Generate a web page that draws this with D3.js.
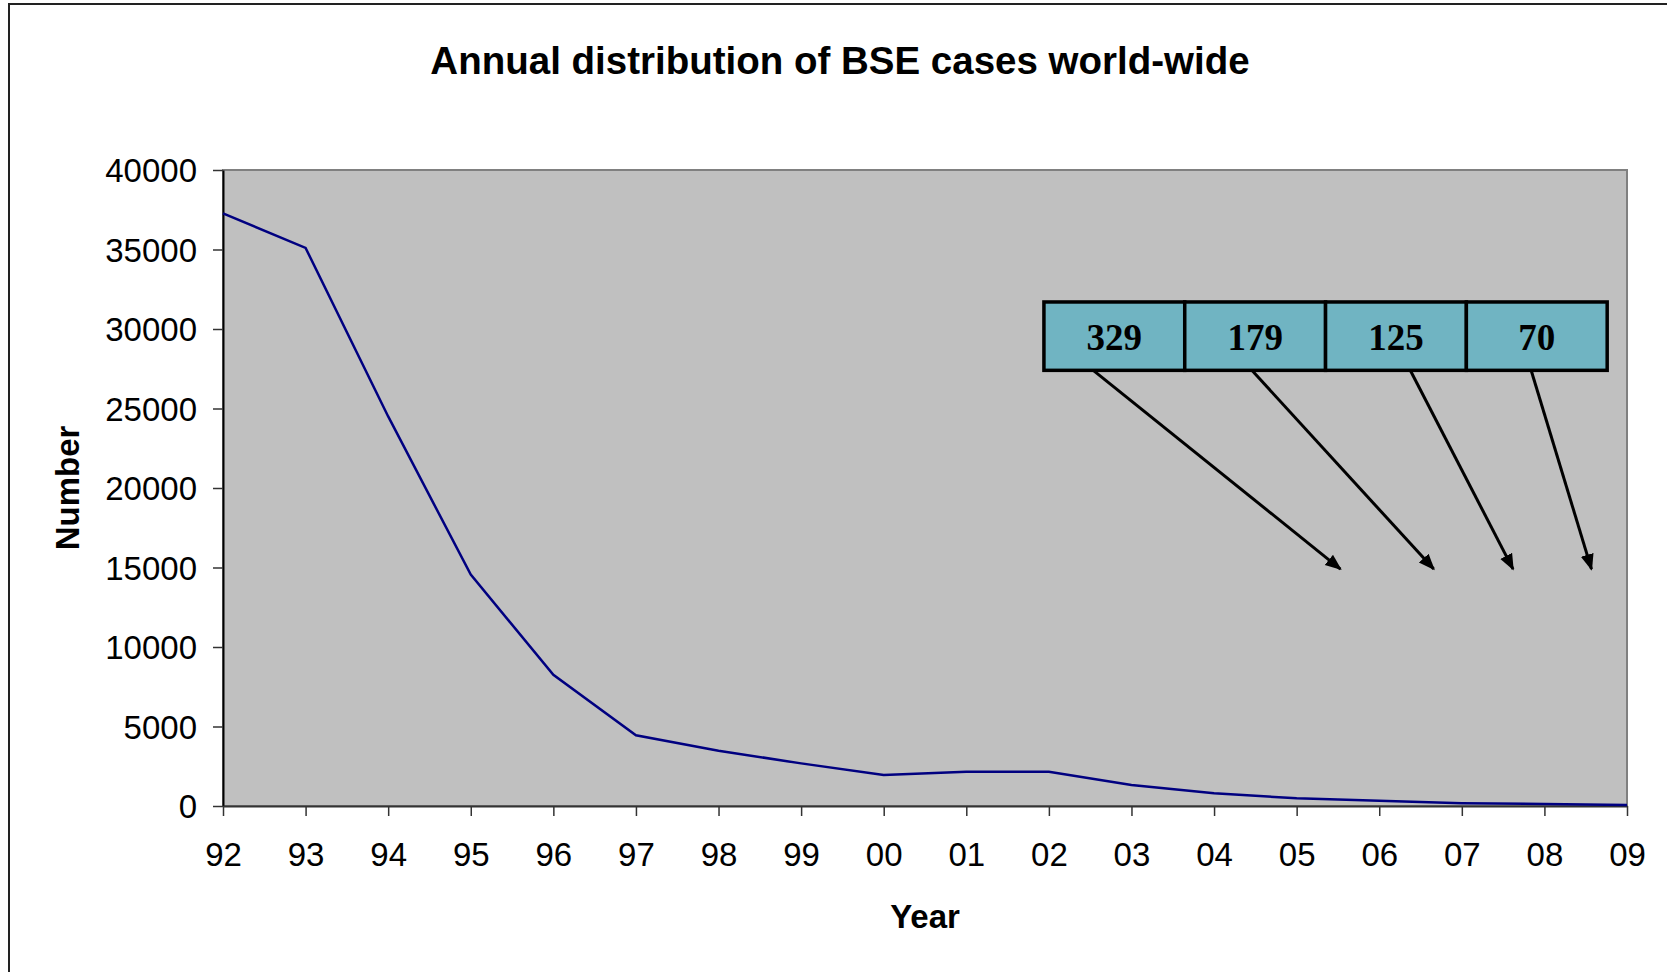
<!DOCTYPE html>
<html>
<head>
<meta charset="utf-8">
<script src="https://cdn.jsdelivr.net/npm/d3@7"></script>
<style>
  body { margin: 0; background: #fff; }
  svg { display: block; }
  .tick text { font-family: "Liberation Sans", Arial, sans-serif; font-size: 33px; fill: #000; }
</style>
</head>
<body>
<script>

// year labels on the category axis
var years = ["92", "93", "94", "95", "96", "97", "98", "99", "00",
             "01", "02", "03", "04", "05", "06", "07", "08", "09"];

// BSE cases per year (last four from the call-out)
var cases = [37270, 35100, 24500, 14550, 8250, 4450, 3480, 2680, 1950,
             2150, 2150, 1320, 800, 480, 329, 179, 125, 70];

var yTicks = [0, 5000, 10000, 15000, 20000, 25000, 30000, 35000, 40000];

// call-out: labels and which year each arrow points at
var calloutLabels = ["329", "179", "125", "70"];
var calloutYears = ["06", "07", "08", "09"];

function run() {
    var width = 1667, height = 972;
    var plot = { left: 223, right: 1627, top: 170, bottom: 806 };

    var svg = d3.select("body").append("svg")
        .attr("width", width)
        .attr("height", height);

    // outer chart frame (only top / left edges fall inside the picture)
    svg.append("rect")
        .attr("x", 9).attr("y", 4)
        .attr("width", width + 20).attr("height", height + 20)
        .attr("fill", "none")
        .attr("stroke", "#222")
        .attr("stroke-width", 2);

    var x = d3.scalePoint()
        .domain(years)
        .range([plot.left, plot.right]);

    // same axis in index units, for placing the call-out
    var xi = d3.scaleLinear()
        .domain([0, years.length - 1])
        .range([plot.left, plot.right]);

    var y = d3.scaleLinear()
        .domain([0, 40000])
        .range([plot.bottom, plot.top]);

    // plot area
    svg.append("rect")
        .attr("x", plot.left).attr("y", plot.top)
        .attr("width", plot.right - plot.left)
        .attr("height", plot.bottom - plot.top)
        .attr("fill", "#c0c0c0")
        .attr("stroke", "#808080")
        .attr("stroke-width", 2);

    var yAxis = svg.append("g")
        .attr("transform", "translate(" + plot.left + ",0)")
        .call(d3.axisLeft(y).tickValues(yTicks).tickFormat(d3.format("d"))
            .tickSizeInner(10).tickSizeOuter(0).tickPadding(16));
    yAxis.select(".domain").attr("stroke", "#000").attr("stroke-width", 2);
    yAxis.selectAll(".tick line").attr("stroke", "#333").attr("stroke-width", 1.5);
    yAxis.selectAll(".tick text").attr("dy", "0.36em");

    var xAxis = svg.append("g")
        .attr("transform", "translate(0," + plot.bottom + ")")
        .call(d3.axisBottom(x).tickSizeInner(10).tickSizeOuter(0).tickPadding(27));
    xAxis.select(".domain").attr("stroke", "#333").attr("stroke-width", 2);
    xAxis.selectAll(".tick line").attr("stroke", "#333").attr("stroke-width", 1.5);
    xAxis.selectAll(".tick text").attr("dy", "0.71em");

    // data line
    var line = d3.line()
        .x(function (d, i) { return x(years[i]); })
        .y(function (d) { return y(d); });

    svg.append("path")
        .datum(cases)
        .attr("d", line)
        .attr("fill", "none")
        .attr("stroke", "#000080")
        .attr("stroke-width", 2.5);

    // call-out box, in axis units (index along x, cases along y)
    var boxX0 = 9.94, boxX1 = 16.76, boxTop = 31700, boxBottom = 27400;
    var cellW = (xi(boxX1) - xi(boxX0)) / calloutLabels.length;

    var defs = svg.append("defs");
    defs.append("marker")
        .attr("id", "arrow")
        .attr("viewBox", "0 0 10 10")
        .attr("refX", 9).attr("refY", 5)
        .attr("markerWidth", 5.5).attr("markerHeight", 5.5)
        .attr("orient", "auto")
        .append("path")
        .attr("d", "M0,1L10,5L0,9Z")
        .attr("fill", "#000");

    // arrow start / end positions in index units
    var arrowStart = [10.50, 12.43, 14.36, 15.83];
    var arrowEnd = [13.53, 14.66, 15.62, 16.57];
    var arrowFrom = 27560, arrowTo = 14900;

    svg.selectAll(".callout-arrow")
        .data(calloutYears)
        .enter().append("line")
        .attr("class", "callout-arrow")
        .attr("x1", function (d, i) { return xi(arrowStart[i]); })
        .attr("y1", y(arrowFrom))
        .attr("x2", function (d, i) { return xi(arrowEnd[i]); })
        .attr("y2", y(arrowTo))
        .attr("stroke", "#000")
        .attr("stroke-width", 3)
        .attr("marker-end", "url(#arrow)");

    var cells = svg.selectAll(".callout-cell")
        .data(calloutLabels)
        .enter().append("g")
        .attr("class", "callout-cell")
        .attr("transform", function (d, i) {
            return "translate(" + (xi(boxX0) + i * cellW) + "," + y(boxTop) + ")";
        });

    cells.append("rect")
        .attr("width", cellW)
        .attr("height", y(boxBottom) - y(boxTop))
        .attr("fill", "#70b4c2")
        .attr("stroke", "#000")
        .attr("stroke-width", 3.5);

    cells.append("text")
        .attr("x", cellW / 2)
        .attr("y", 48)
        .attr("text-anchor", "middle")
        .attr("font-family", "'Liberation Serif', 'Times New Roman', serif")
        .attr("font-weight", "bold")
        .attr("font-size", 37)
        .text(function (d) { return d; });

    // title and axis titles
    svg.append("text")
        .attr("x", 840).attr("y", 74)
        .attr("text-anchor", "middle")
        .attr("font-family", "'Liberation Sans', Arial, sans-serif")
        .attr("font-weight", "bold")
        .attr("font-size", 38.5)
        .text("Annual distribution of BSE cases world-wide");

    svg.append("text")
        .attr("x", 925).attr("y", 928)
        .attr("text-anchor", "middle")
        .attr("font-family", "'Liberation Sans', Arial, sans-serif")
        .attr("font-weight", "bold")
        .attr("font-size", 33)
        .text("Year");

    svg.append("text")
        .attr("transform", "translate(79,488) rotate(-90)")
        .attr("text-anchor", "middle")
        .attr("font-family", "'Liberation Sans', Arial, sans-serif")
        .attr("font-weight", "bold")
        .attr("font-size", 33)
        .text("Number");
}

run();
</script>
</body>
</html>
